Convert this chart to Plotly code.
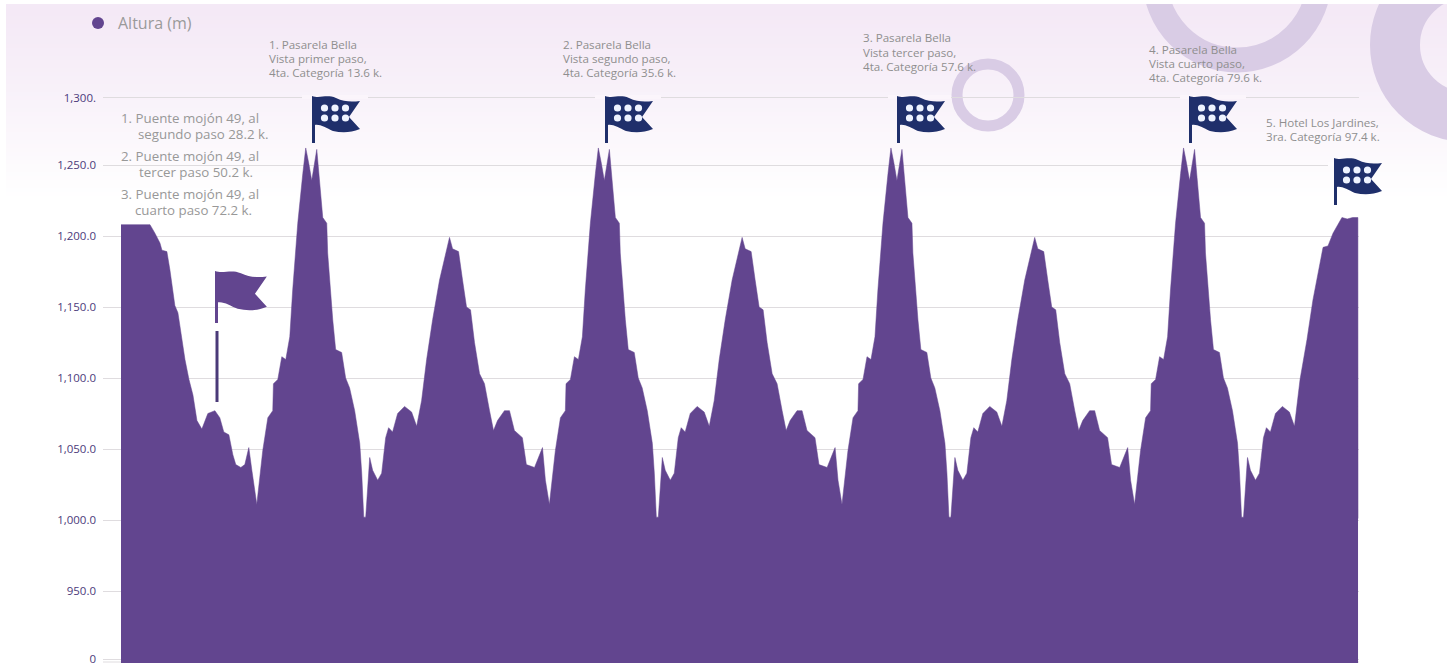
import plotly.graph_objects as go

# ---- elevation profile (km, metres) ----
km_start = [0.0, 2.18, 2.55, 2.93, 3.08, 3.45, 3.68, 4.05, 4.28, 4.81, 5.11, 5.41, 5.71, 6.08, 6.53, 7.06, 7.43, 7.73, 8.11, 8.41, 8.63, 9.01, 9.31, 9.61, 9.84, 10.21]
alt_start = [1208, 1208, 1202, 1195, 1190, 1189, 1176, 1151, 1146, 1113, 1099, 1088, 1070, 1064, 1075, 1077, 1072, 1062, 1060, 1046, 1039, 1037, 1039, 1051, 1035, 1011]

km_lap1 = [10.66,11.04,11.41,11.46,11.79,12.09,12.39,12.69,12.91,13.29,13.67,13.89,14.12,14.34,14.72,14.94,15.17,15.47,15.54,15.92,16.14,16.59,16.89,17.19,17.57,17.95,18.10,18.25,18.40,18.70,18.92,19.30,19.60,19.90,20.12,20.42,20.80,21.32,21.85,22.23,22.60,22.98,23.43,23.95,24.48,24.70,24.93,25.38,25.68,25.98,26.28,26.58,26.96,27.33,27.71,28.01,28.31,28.83,29.21,29.58,30.18,30.48,31.09,31.31,31.69,31.91,32.21]
km_lap2 = [32.66,33.04,33.41,33.46,33.79,34.09,34.39,34.69,34.91,35.29,35.67,35.89,36.12,36.34,36.72,36.94,37.17,37.47,37.54,37.92,38.14,38.59,38.89,39.19,39.57,39.95,40.10,40.25,40.40,40.70,40.92,41.30,41.60,41.90,42.12,42.42,42.80,43.32,43.85,44.23,44.60,44.98,45.43,45.95,46.48,46.70,46.93,47.38,47.68,47.98,48.28,48.58,48.96,49.33,49.71,50.01,50.31,50.83,51.21,51.58,52.18,52.48,53.09,53.31,53.69,53.91,54.21]
km_lap3 = [54.66,55.04,55.41,55.46,55.79,56.09,56.39,56.69,56.91,57.29,57.67,57.89,58.12,58.34,58.72,58.94,59.17,59.47,59.54,59.92,60.14,60.59,60.89,61.19,61.57,61.95,62.10,62.25,62.40,62.70,62.92,63.30,63.60,63.90,64.12,64.42,64.80,65.32,65.85,66.23,66.60,66.98,67.43,67.95,68.48,68.70,68.93,69.38,69.68,69.98,70.28,70.58,70.96,71.33,71.71,72.01,72.31,72.83,73.21,73.58,74.18,74.48,75.09,75.31,75.69,75.91,76.21]
km_lap4 = [76.66,77.04,77.41,77.46,77.79,78.09,78.39,78.69,78.91,79.29,79.67,79.89,80.12,80.34,80.72,80.94,81.17,81.47,81.54,81.92,82.14,82.59,82.89,83.19,83.57,83.95,84.10,84.25,84.40,84.70,84.92,85.30,85.60,85.90,86.12,86.42,86.80,87.32,87.85,88.23,88.65,89.17,89.62,90.38,90.75,91.13,91.8,92.2,92.6,93.0,93.01]

alt_lap1 = [1049,1072,1077,1096,1099,1115,1113,1129,1162,1209,1244,1262,1251,1239,1261,1239,1213,1209,1188,1141,1120,1118,1100,1093,1077,1054,1033,1002,1002,1044,1035,1028,1033,1058,1065,1062,1075,1080,1076,1066,1084,1113,1141,1169,1191,1199,1191,1189,1169,1150,1148,1125,1103,1096,1077,1063,1070,1077,1077,1063,1058,1039,1037,1042,1051,1028,1011]
alt_lap2 = [1049,1072,1077,1096,1099,1115,1113,1129,1162,1209,1244,1262,1251,1239,1261,1239,1213,1209,1188,1141,1120,1118,1100,1093,1077,1054,1033,1002,1002,1044,1035,1028,1033,1058,1065,1062,1075,1080,1076,1066,1084,1113,1141,1169,1191,1199,1191,1189,1169,1150,1148,1125,1103,1096,1077,1063,1070,1077,1077,1063,1058,1039,1037,1042,1051,1028,1011]
alt_lap3 = [1049,1072,1077,1096,1099,1115,1113,1129,1162,1209,1244,1262,1251,1239,1261,1239,1213,1209,1188,1141,1120,1118,1100,1093,1077,1054,1033,1002,1002,1044,1035,1028,1033,1058,1065,1062,1075,1080,1076,1066,1084,1113,1141,1169,1191,1199,1191,1189,1169,1150,1148,1125,1103,1096,1077,1063,1070,1077,1077,1063,1058,1039,1037,1042,1051,1028,1011]
alt_lap4 = [1049,1072,1077,1096,1099,1115,1113,1129,1162,1209,1244,1262,1251,1239,1261,1239,1213,1209,1188,1141,1120,1118,1100,1093,1077,1054,1033,1002,1002,1044,1035,1028,1033,1058,1065,1062,1075,1080,1076,1066,1099,1127,1155,1192,1193,1202,1213,1212,1213,1213,1001]

km = km_start + km_lap1 + km_lap2 + km_lap3 + km_lap4
alt = alt_start + alt_lap1 + alt_lap2 + alt_lap3 + alt_lap4

tick_vals = [902, 950, 1000, 1050, 1100, 1150, 1200, 1250, 1297.5]
tick_text = ["0", "950.0", "1,000.0", "1,050.0", "1,100.0", "1,150.0", "1,200.0", "1,250.0", "1,300."]

series_name = "Altura (m)"
flag_notes = [
    ("1. Pasarela Bella", 268, 44), ("Vista primer paso,", 268, 58), ("4ta. Categoría 13.6 k.", 268, 72),
    ("2. Pasarela Bella", 562, 44), ("Vista segundo paso,", 562, 58), ("4ta. Categoría 35.6 k.", 562, 72),
    ("3. Pasarela Bella", 862, 38), ("Vista tercer paso,", 862, 53), ("4ta. Categoría 57.6 k.", 862, 67),
    ("4. Pasarela Bella", 1148, 49), ("Vista cuarto paso,", 1148, 63), ("4ta. Categoría 79.6 k.", 1148, 77),
    ("5. Hotel Los Jardines,", 1265, 122), ("3ra. Categoría 97.4 k.", 1265, 136),
]
bridge_notes = [
    ("1. Puente mojón 49, al", 120, 118), ("segundo paso 28.2 k.", 137, 134),
    ("2. Puente mojón 49, al", 120, 156), ("tercer paso 50.2 k.", 138, 172),
    ("3. Puente mojón 49, al", 120, 194), ("cuarto paso 72.2 k.", 134, 210),
]

# ---- layout geometry ----
W, H = 1453, 666
L, R, T, B = 103, 1359, 90, 663
BG_LEFT, BG_RIGHT, BG_TOP = 6, 1447, 4
PURPLE = "#62458f"
NAVY = "#1f2f6b"
RING = "#d9cce5"
GRID = "#dfdcdf"
FONT = "Open Sans"
Y_ZERO_PX = 662
PX_PER_M = 1.42


def xp(px):
    return (px - L) / (R - L)


def yp(py):
    return (B - py) / (B - T)


shapes = []

# background gradient
TOP_RGB = (244, 233, 246)
bands = 49
for i in range(bands):
    y0 = BG_TOP + i * 4
    t = i / (bands - 1)
    c = tuple(round(a + (255 - a) * t ** 1.2) for a in TOP_RGB)
    shapes.append(dict(type="rect", xref="paper", yref="paper", x0=xp(BG_LEFT), x1=xp(BG_RIGHT), y0=yp(y0), y1=yp(y0 + 4),
                       fillcolor=f"rgb{c}", line_width=0, layer="below"))


# decorative rings
def ring(cx, cy, r, w):
    shapes.append(dict(type="circle", xref="paper", yref="paper", x0=xp(cx - r), x1=xp(cx + r),
                       y0=yp(cy + r), y1=yp(cy - r), fillcolor="rgba(0,0,0,0)",
                       line=dict(color=RING, width=w), layer="below"))


ring(1237, -22, 82, 25)
ring(1467, 45, 72, 50)
ring(988, 95, 31, 11)

# white page edges that crop the decoration
shapes.append(dict(type="rect", xref="paper", yref="paper", x0=xp(BG_RIGHT), x1=xp(W), y0=yp(H), y1=yp(0),
                   fillcolor="white", line_width=0, layer="below"))
shapes.append(dict(type="rect", xref="paper", yref="paper", x0=xp(0), x1=xp(W), y0=yp(BG_TOP), y1=yp(0),
                   fillcolor="white", line_width=0, layer="below"))

# baseline under the area
shapes.append(dict(type="line", xref="paper", yref="y", x0=0, x1=1, y0=900, y1=900,
                   line=dict(color=GRID, width=1), layer="below"))


# flags
def flag_path(s, pole):
    return f"M0,0 C{8*s},{-3*s} {14*s},{2*s} {24*s},{-2*s} C{32*s},{-6*s} {40*s},{-6*s} {48*s},{-5*s} " \
           f"L{37*s},{-21*s} L{48*s},{-33*s} C{38*s},{-37*s} {30*s},{-37*s} {21*s},{-35*s} " \
           f"C{14*s},{-32*s} {8*s},{-28*s} 3,{-29*s} L3,{-pole} L0,{-pole} Z"


def add_flag(px, py, color, s=1.0, pole=47, dots=True):
    shapes.append(dict(type="path", xref="paper", yref="paper", xsizemode="pixel", ysizemode="pixel",
                       xanchor=xp(px), yanchor=yp(py), path=flag_path(s, pole),
                       fillcolor=color, line_width=0, layer="above"))
    if dots:
        for dx in (12.5, 23, 33.5):
            for dy in (12, 22):
                shapes.append(dict(type="circle", xref="paper", yref="paper", xsizemode="pixel", ysizemode="pixel",
                                   xanchor=xp(px), yanchor=yp(py), x0=dx - 3.6, x1=dx + 3.6,
                                   y0=-dy - 3.6, y1=-dy + 3.6, fillcolor="#eef3ff", line_width=0, layer="above"))


# gaps the flags cut out of the gridlines
for x0, x1, yc, col in [(302, 368, 97, "#fbf5fb"), (595, 661, 97, "#fbf5fb"), (888, 951, 97, "#fbf5fb"),
                        (1180, 1246, 97, "#fbf5fb"), (1328, 1360, 164, "#fefcfe")]:
    shapes.append(dict(type="rect", xref="paper", yref="paper", x0=xp(x0), x1=xp(x1), y0=yp(yc + 2), y1=yp(yc - 2),
                       fillcolor=col, line_width=0, layer="above"))

for px, py in [(312, 96), (605, 96), (897, 96), (1189, 96), (1334, 158)]:
    add_flag(px, py, NAVY)

add_flag(215, 271, PURPLE, s=1.08, pole=52, dots=False)
shapes.append(dict(type="rect", xref="paper", yref="paper", x0=xp(215.5), x1=xp(218.5), y0=yp(402), y1=yp(331),
                   fillcolor="#4a3a78", line_width=0, layer="above"))

# annotations
annotations = []
for text, px, py in flag_notes:
    annotations.append(dict(text=text, xref="paper", yref="paper", x=xp(px), y=yp(py), xanchor="left", yanchor="middle",
                            align="left", showarrow=False, xshift=-1,
                            font=dict(family=FONT, size=11.6, color="#8f8f8f")))
for text, px, py in bridge_notes:
    annotations.append(dict(text=text, xref="paper", yref="paper", x=xp(px), y=yp(py), xanchor="left", yanchor="middle",
                            showarrow=False, xshift=-1,
                            font=dict(family=FONT, size=13.3, color="#989898")))

fig = go.Figure()
fig.add_trace(go.Scatter(x=km, y=alt, mode="lines", fill="tozeroy", fillcolor=PURPLE,
                         line=dict(color=PURPLE, width=0.5), showlegend=False, name=series_name,
                         hovertemplate="%{y}<extra></extra>"))
fig.add_trace(go.Scatter(x=[None], y=[None], mode="markers", name=series_name,
                         marker=dict(color=PURPLE, size=12, symbol="circle"), showlegend=True))

fig.update_layout(
    width=W, height=H,
    margin=dict(l=L, r=W - R, t=T, b=H - B, autoexpand=False),
    paper_bgcolor="white",
    plot_bgcolor="rgba(0,0,0,0)",
    font=dict(family=FONT),
    showlegend=True,
    legend=dict(x=xp(78), y=yp(23), xanchor="left", yanchor="middle", bgcolor="rgba(0,0,0,0)",
                font=dict(family=FONT, size=16, color="#9a9a9a")),
    xaxis=dict(range=[(L - 121) / 13.3, (R - 121) / 13.3], visible=False, showgrid=False, zeroline=False),
    yaxis=dict(range=[900 - (B - Y_ZERO_PX) / PX_PER_M, 900 + (Y_ZERO_PX - T) / PX_PER_M],
               tickmode="array", tickvals=tick_vals, ticktext=tick_text,
               showgrid=True, gridcolor=GRID, gridwidth=1, zeroline=False, showline=False,
               ticks="", ticklabelstandoff=6, ticklabeloverflow="allow",
               tickfont=dict(family=FONT, size=11.5, color="#4c3a7a")),
    shapes=shapes,
    annotations=annotations,
)

fig.write_html("out.html", config=dict(displayModeBar=False),
               post_script="document.body.style.margin='0';document.body.style.overflow='hidden';")
